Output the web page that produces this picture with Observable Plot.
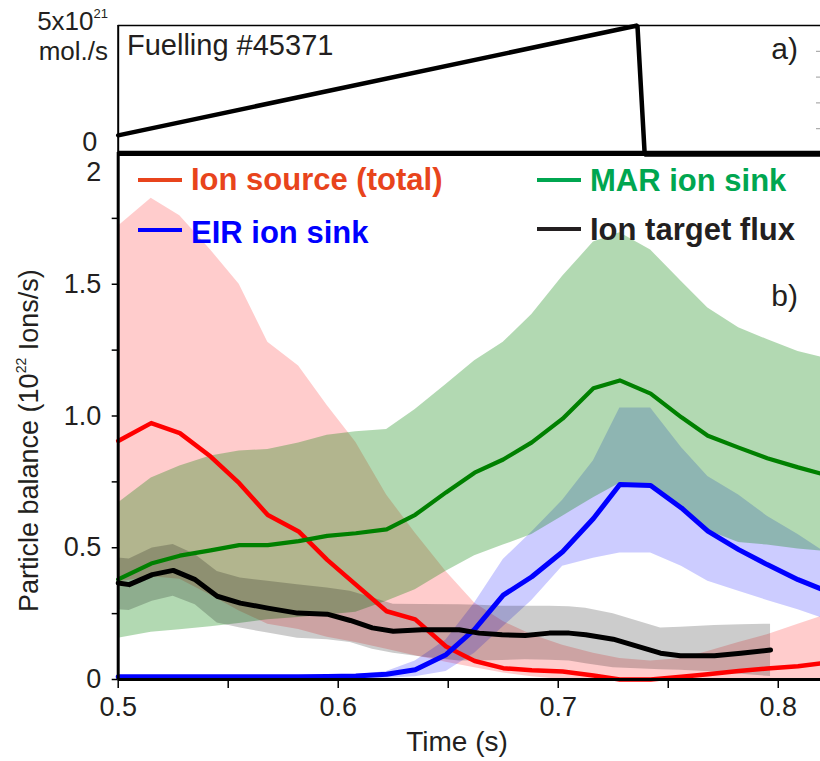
<!DOCTYPE html>
<html>
<head>
<meta charset="utf-8">
<script src="https://cdn.jsdelivr.net/npm/d3@7"></script>
<script src="https://cdn.jsdelivr.net/npm/@observablehq/plot@0.6"></script>
<style>
  body { margin: 0; background: #fff; }
  #wrap { position: relative; width: 820px; height: 761px; overflow: hidden; font-family: "Liberation Sans", Arial, sans-serif; }
  #wrap svg { position: absolute; left: 0; top: 0; }
</style>
</head>
<body>
<div id="wrap"></div>
<script>
// ---------- data ----------
// panel a) fuelling (10^21 molecules/s)
const fuelTime = [0.500, 0.736, 0.7393, 0.8192];
const fuelRate = [0.74, 5.0, 0.0, 0.0];

// panel b) common time grid for ion source, MAR and EIR (s)
const tGrid = [0.500, 0.515, 0.528, 0.542, 0.555, 0.568, 0.582, 0.595, 0.608, 0.622, 0.635, 0.649, 0.662,
               0.675, 0.688, 0.702, 0.716, 0.728, 0.742, 0.756, 0.768, 0.782, 0.795, 0.809, 0.820];

const ionSource   = [0.905, 0.973, 0.935, 0.846, 0.745, 0.624, 0.562, 0.454, 0.360, 0.259, 0.228, 0.125, 0.070,
                     0.043, 0.035, 0.030, 0.015, 0.000, 0.000, 0.010, 0.020, 0.032, 0.042, 0.050, 0.062];
const ionSourceLo = [0.37, 0.39, 0.38, 0.32, 0.26, 0.21, 0.19, 0.16, 0.14, 0.115, 0.09, 0.065, 0.045,
                     0.025, 0.01, 0, 0, 0, 0, 0, 0, 0, 0, 0, 0];
const ionSourceHi = [1.72, 1.826, 1.76, 1.63, 1.50, 1.28, 1.19, 1.04, 0.90, 0.70, 0.556, 0.41, 0.29,
                     0.22, 0.17, 0.13, 0.10, 0.08, 0.07, 0.08, 0.106, 0.14, 0.17, 0.21, 0.24];

const marSink   = [0.38, 0.44, 0.47, 0.49, 0.51, 0.51, 0.525, 0.545, 0.555, 0.57, 0.625, 0.71, 0.785,
                   0.835, 0.90, 0.99, 1.105, 1.135, 1.085, 0.995, 0.925, 0.88, 0.84, 0.805, 0.78];
const marSinkLo = [0.157, 0.179, 0.189, 0.20, 0.213, 0.227, 0.235, 0.245, 0.255, 0.297, 0.341, 0.411, 0.47,
                   0.51, 0.55, 0.62, 0.69, 0.745, 0.74, 0.65, 0.565, 0.52, 0.51, 0.495, 0.487];
const marSinkHi = [0.67, 0.765, 0.81, 0.848, 0.867, 0.873, 0.898, 0.927, 0.94, 0.949, 1.025, 1.12, 1.21,
                   1.28, 1.385, 1.53, 1.66, 1.695, 1.63, 1.51, 1.41, 1.335, 1.29, 1.245, 1.222];

const eirSink   = [0.01, 0.01, 0.01, 0.01, 0.01, 0.01, 0.01, 0.011, 0.013, 0.02, 0.037, 0.094, 0.19,
                   0.32, 0.39, 0.485, 0.611, 0.74, 0.736, 0.651, 0.563, 0.493, 0.436, 0.379, 0.342];
const eirSinkLo = [0, 0, 0, 0, 0, 0, 0, 0, 0, 0.005, 0.01, 0.03, 0.10,
                   0.20, 0.30, 0.43, 0.46, 0.48, 0.48, 0.43, 0.373, 0.335, 0.30, 0.265, 0.233];
const eirSinkHi = [0.015, 0.015, 0.015, 0.015, 0.015, 0.015, 0.015, 0.015, 0.018, 0.03, 0.07, 0.15, 0.29,
                   0.455, 0.56, 0.68, 0.83, 1.03, 1.03, 0.88, 0.77, 0.70, 0.62, 0.55, 0.49];

// ion target flux has its own time base
const tFlux  = [0.500, 0.505, 0.5155, 0.525, 0.535, 0.545, 0.5555, 0.568, 0.5815, 0.595, 0.6055, 0.6155, 0.625,
                0.638, 0.655, 0.664, 0.6745, 0.685, 0.696, 0.705, 0.7125, 0.725, 0.7465, 0.7555, 0.771, 0.783, 0.7965];
const flux   = [0.366, 0.36, 0.398, 0.414, 0.379, 0.316, 0.29, 0.271, 0.252, 0.248, 0.224, 0.196, 0.183,
                0.189, 0.189, 0.176, 0.17, 0.167, 0.176, 0.176, 0.17, 0.153, 0.10, 0.09, 0.09, 0.10, 0.112];
const fluxLo = [0.265, 0.262, 0.297, 0.316, 0.284, 0.214, 0.195, 0.176, 0.157, 0.151, 0.14, 0.115, 0.10,
                0.085, 0.07, 0.07, 0.072, 0.075, 0.073, 0.07, 0.06, 0.045, 0.037, 0.035, 0.028, 0.02, 0.011];
const fluxHi = [0.461, 0.457, 0.499, 0.512, 0.474, 0.41, 0.385, 0.373, 0.36, 0.347, 0.335, 0.31, 0.286,
                0.285, 0.284, 0.282, 0.278, 0.278, 0.278, 0.276, 0.27, 0.25, 0.195, 0.198, 0.205, 0.208, 0.21];

// ticks
const xTickValues = [0.5, 0.55, 0.6, 0.65, 0.7, 0.75, 0.8];
const xTickLabels = ["0.5", "", "0.6", "", "0.7", "", "0.8"];
const yTickValues = [0, 0.25, 0.5, 0.75, 1.0, 1.25, 1.5, 1.75];
const yTickLabels = ["0", "", "0.5", "", "1.0", "", "1.5", ""];
const yTopLabel = ["2"];
const fuelTickLabel = ["0"];
const fuelRightTicks = [1, 2, 3, 4];

// series names / colours (legend)
const seriesNames  = ["Ion source (total)", "EIR ion sink", "MAR ion sink", "Ion target flux"];
const legendColors = ["#e8441c", "#0000ff", "#00a650", "#231f20"];

// ---------- build tables ----------
const band = (t, lo, hi) => t.map((d, i) => ({t: d, lo: lo[i], hi: hi[i]}));
const line = (t, v) => t.map((d, i) => ({t: d, v: v[i]}));

const xDomain = [0.5, 0.8192];
const FONT = "Liberation Sans, Arial, sans-serif";

const bottomPlot = Plot.plot({
  width: 820, height: 761,
  marginLeft: 117.7, marginRight: 0, marginTop: 152, marginBottom: 82,
  style: {background: "transparent", fontFamily: FONT, overflow: "visible"},
  x: {domain: xDomain},
  y: {domain: [0, 2]},
  marks: [
    Plot.areaY(band(tGrid, ionSourceLo, ionSourceHi), {x: "t", y1: "lo", y2: "hi", fill: "#ff0000", fillOpacity: 0.2}),
    Plot.areaY(band(tGrid, eirSinkLo, eirSinkHi), {x: "t", y1: "lo", y2: "hi", fill: "#0000ff", fillOpacity: 0.2}),
    Plot.areaY(band(tGrid, marSinkLo, marSinkHi), {x: "t", y1: "lo", y2: "hi", fill: "#008000", fillOpacity: 0.3}),
    Plot.areaY(band(tFlux, fluxLo, fluxHi), {x: "t", y1: "lo", y2: "hi", fill: "#000000", fillOpacity: 0.2}),
    Plot.lineY(line(tGrid, ionSource), {x: "t", y: "v", stroke: "#ff0000", strokeWidth: 4.5}),
    Plot.lineY(line(tGrid, marSink), {x: "t", y: "v", stroke: "#008000", strokeWidth: 4.2}),
    Plot.lineY(line(tGrid, eirSink), {x: "t", y: "v", stroke: "#0000ff", strokeWidth: 5}),
    Plot.lineY(line(tFlux, flux), {x: "t", y: "v", stroke: "#000000", strokeWidth: 5}),
    Plot.axisX({ticks: xTickValues, tickFormat: (d, i) => xTickLabels[i], tickSize: 9, tickPadding: 8,
                fontSize: 27, label: null, strokeWidth: 1.5, fill: "#231f20"}),
    Plot.axisY({ticks: yTickValues, tickFormat: (d, i) => yTickLabels[i], tickSize: 6, tickPadding: 11,
                fontSize: 27, label: null, strokeWidth: 1.5, fill: "#231f20"}),
    Plot.text(yTopLabel, {x: xDomain[0], y: 2, text: d => d, dx: -17, dy: 20, textAnchor: "end", fontSize: 27, fill: "#231f20"}),
    Plot.ruleX([xDomain[0]], {stroke: "#000", strokeWidth: 3}),
    Plot.ruleY([0], {stroke: "#000", strokeWidth: 3}),
    Plot.ruleY([2], {stroke: "#000", strokeWidth: 3.5})
  ]
});

const topPlot = Plot.plot({
  width: 820, height: 165,
  marginLeft: 117.7, marginRight: 0, marginTop: 25, marginBottom: 11,
  style: {background: "transparent", fontFamily: FONT, overflow: "visible"},
  x: {domain: xDomain, axis: null},
  y: {domain: [0, 5]},
  marks: [
    Plot.ruleY([5], {stroke: "#000", strokeWidth: 1.5}),
    Plot.ruleX([xDomain[0]], {stroke: "#000", strokeWidth: 2}),
    Plot.ruleY([0], {stroke: "#000", strokeWidth: 3}),
    Plot.axisY(fuelRightTicks, {anchor: "right", tickSize: -5, tickFormat: () => "", stroke: "#9a9a9a", strokeWidth: 1, label: null}),
    Plot.lineY(line(fuelTime, fuelRate), {x: "t", y: "v", stroke: "#000", strokeWidth: 4.5, strokeLinejoin: "miter"}),
    Plot.text(fuelTickLabel, {x: xDomain[0], y: 0, text: d => d, dx: -21, dy: -12, textAnchor: "end", fontSize: 27, fill: "#231f20"})
  ]
});

const wrap = document.getElementById("wrap");
wrap.appendChild(bottomPlot);
wrap.appendChild(topPlot);

// ---------- annotations (titles, legend, panel labels) ----------
const ann = d3.select(wrap).append("svg")
  .attr("width", 820).attr("height", 761)
  .style("font-family", FONT);

const txt = (x, y, s, size, opts = {}) => {
  const t = ann.append("text").attr("x", x).attr("y", y).attr("font-size", size)
    .attr("fill", opts.fill || "#231f20").attr("text-anchor", opts.anchor || "start")
    .attr("font-weight", opts.weight || "normal").text(s);
  return t;
};

// panel a labels
const t5 = ann.append("text").attr("x", 108).attr("y", 30).attr("text-anchor", "end")
  .attr("font-size", 26).attr("fill", "#231f20");
t5.append("tspan").text("5x10");
t5.append("tspan").attr("font-size", 13).attr("dy", -12).text("21");
txt(108, 60, "mol./s", 26, {anchor: "end"});
txt(127, 55, "Fuelling #45371", 29);
txt(798, 59, "a)", 30, {anchor: "end"});

// panel b label
txt(798, 306, "b)", 30, {anchor: "end"});

// legend
const legendPos = [
  {x: 138, y: 180, ty: 190},
  {x: 138, y: 230, ty: 243},
  {x: 537, y: 180, ty: 191},
  {x: 537, y: 229, ty: 240}
];
seriesNames.forEach((name, i) => {
  const p = legendPos[i];
  ann.append("line").attr("x1", p.x).attr("x2", p.x + 44).attr("y1", p.y).attr("y2", p.y)
    .attr("stroke", legendColors[i]).attr("stroke-width", 4);
  txt(p.x + 53, p.ty, name, 31, {fill: legendColors[i], weight: "bold"});
});

// axis titles
txt(457, 751, "Time (s)", 28, {anchor: "middle"});
const yl = ann.append("text").attr("transform", "translate(38,612) rotate(-90)")
  .attr("font-size", 27).attr("fill", "#231f20");
yl.append("tspan").text("Particle balance (10");
yl.append("tspan").attr("font-size", 14).attr("dy", -12).text("22");
yl.append("tspan").attr("dy", 12).text("\u00a0Ions/s)");
</script>
</body>
</html>
